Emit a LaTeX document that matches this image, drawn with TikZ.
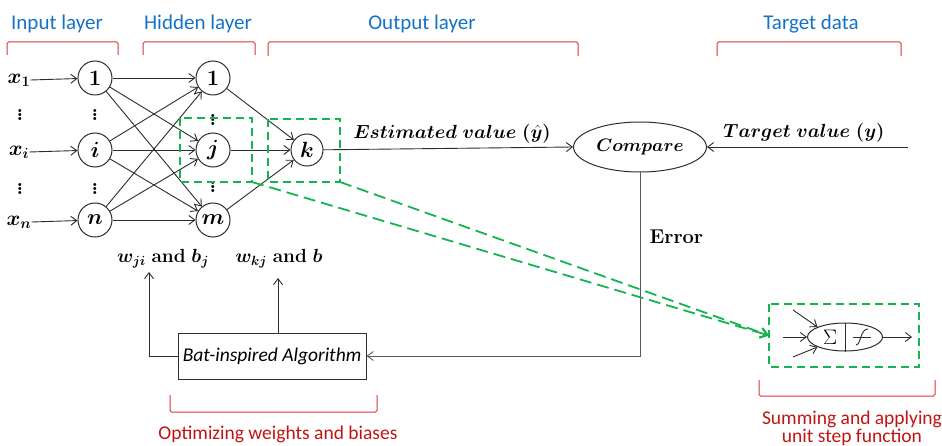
\RequirePackage{fix-cm}
\documentclass[tikz,border=0pt]{standalone}
\usepackage{fontspec}
\usepackage{bm}
\newfontfamily\calibri{Carlito}
\usetikzlibrary{arrows.meta,shapes.geometric}

\definecolor{layerblue}{RGB}{20,115,200}
\definecolor{bracketred}{RGB}{225,50,50}
\definecolor{notered}{RGB}{195,20,20}
\definecolor{dashgreen}{RGB}{20,180,80}
\definecolor{inkgray}{RGB}{45,45,45}

\tikzset{
  neuron/.style={circle, draw=inkgray, line width=1pt, minimum size=34pt,
    inner sep=0pt, font=\fontsize{22}{22}\selectfont},
  link/.style={draw=inkgray, line width=0.9pt,
    -{Straight Barb[length=6pt,width=9pt]}},
  plainline/.style={draw=inkgray, line width=0.9pt},
  layerlabel/.style={text=layerblue, font=\calibri\fontsize{21}{23}\selectfont},
  notelabel/.style={text=notered, font=\calibri\fontsize{19.5}{21}\selectfont,
    align=center},
  bracket/.style={draw=bracketred, line width=1pt, rounded corners=1.5pt},
  hlbox/.style={draw=dashgreen, line width=1.8pt, dash pattern=on 8pt off 5pt},
  glink/.style={draw=dashgreen, line width=1.8pt, dash pattern=on 12pt off 6pt,
    -{Straight Barb[length=7pt,width=10pt]}},
  mathlabel/.style={font=\fontsize{19}{21}\selectfont, inner sep=1pt},
  dots/.style={font=\fontsize{21}{21}\selectfont, inner sep=0pt}
}

\begin{document}
\begin{tikzpicture}[x=1pt, y=-1pt]
\useasboundingbox (0,0) rectangle (942,446);

% layer titles and brackets
\node[layerlabel] (tin)  at (57,24)  {Input layer};
\node[layerlabel] (thid) at (198,24) {Hidden layer};
\node[layerlabel] (tout) at (422,24) {Output layer};
\node[layerlabel] (ttar) at (811,24) {Target data};
\draw[bracket] (7,55) -- (7,42) -- (118,42) -- (118,55);
\draw[bracket] (143,55) -- (143,42) -- (255,42) -- (255,55);
\draw[bracket] (268,56) -- (268,42) -- (578,42) -- (578,56);
\draw[bracket] (717,56) -- (717,42) -- (901,42) -- (901,56);

% input layer
\node[neuron] (i1) at (95,78)  {$\bm{1}$};
\node[neuron] (ii) at (95,150) {$\bm{i}$};
\node[neuron] (in) at (95,220) {$\bm{n}$};
\node[font=\fontsize{21}{22}\selectfont, inner sep=0pt] (x1) at (19,80)  {$\bm{x_1}$};
\node[font=\fontsize{21}{22}\selectfont, inner sep=0pt] (xi) at (19,152) {$\bm{x_i}$};
\node[font=\fontsize{21}{22}\selectfont, inner sep=0pt] (xn) at (19,222) {$\bm{x_n}$};
\draw[link] (x1.east) -- (i1);
\draw[link] (xi.east) -- (ii);
\draw[link] (xn.east) -- (in);
\node[dots] (dx1) at (20,112) {$\bm\vdots$};
\node[dots] (dx2) at (20,186) {$\bm\vdots$};
\node[dots] (di1) at (95,112) {$\bm\vdots$};
\node[dots] (di2) at (95,186) {$\bm\vdots$};

% hidden layer
\node[neuron] (h1) at (213,78)  {$\bm{1}$};
\node[neuron] (hj) at (213,150) {$\bm{j}$};
\node[neuron] (hm) at (213,220) {$\bm{m}$};
\node[dots] (dh1) at (213,117) {$\bm\vdots$};
\node[dots] (dh2) at (213,184) {$\bm\vdots$};
\foreach \s in {i1,ii,in}
  \foreach \t in {h1,hj,hm}
    \draw[link] (\s) -- (\t);

% output neuron
\node[neuron, minimum size=32pt] (k) at (307,150) {$\bm{k}$};
\foreach \s in {h1,hj,hm}
  \draw[link] (\s) -- (k);

% comparison with the target
\node[ellipse, draw=inkgray, line width=1pt, minimum width=124pt,
  minimum height=50pt, font=\fontsize{18}{20}\selectfont] (cmp) at (640,147)
  {$\bm{Compare}$};
\draw[link] (k) -- (cmp.west);
\node[mathlabel] (est) at (452,134) {$\bm{Estimated\ value\ (\hat{y})}$};
\coordinate (tsrc) at (908,147);
\draw[link] (tsrc) -- (cmp.east);
\node[mathlabel] (tval) at (804,133) {$\bm{Target\ value\ (y)}$};

% optimiser loop
\node[draw=inkgray, line width=1pt, minimum width=188pt, minimum height=46pt,
  font=\calibri\itshape\fontsize{19.5}{21}\selectfont] (bat) at (272,356)
  {Bat-inspired Algorithm};
\coordinate (ecorner) at (640,356);
\draw[link, draw=gray!70!black] (cmp.south) -- (ecorner) -- (bat.east);
\node[anchor=west, font=\bfseries\fontsize{20}{22}\selectfont] (err) at (646,237) {Error};
\coordinate (wjitip) at (149,272);
\coordinate (wkjtip) at (278,278);
\draw[link] (bat.west) -| (wjitip);
\draw[link] (bat.north -| wkjtip) -- (wkjtip);
\node[mathlabel] (wji) at (163,259) {$\bm{w_{ji}}$ \textbf{and} $\bm{b_j}$};
\node[mathlabel] (wkj) at (279,259) {$\bm{w_{kj}}$ \textbf{and} $\bm{b}$};

% bottom brackets and notes
\draw[bracket] (170,395) -- (170,412) -- (377,412) -- (377,395);
\node[notelabel] (nopt) at (278,434) {Optimizing weights and biases};
\draw[bracket] (759,380) -- (759,396) -- (935,396) -- (935,380);
\node[notelabel] (nsum) at (852,428) {Summing and applying\\[-3pt]unit step function};

% highlighted neurons and enlarged unit
\coordinate (hljtl) at (180,118);
\coordinate (hljbr) at (252,182);
\coordinate (hlktl) at (268,119);
\coordinate (hlkbr) at (340,182);
\coordinate (hlutl) at (769,304);
\coordinate (hlubr) at (919,367);
\coordinate (hluin) at (769,335.5);
\draw[hlbox] (hljtl) rectangle (hljbr);
\draw[hlbox] (hlktl) rectangle (hlkbr);
\draw[hlbox] (hlutl) rectangle (hlubr);
\draw[glink] (hljbr) -- (hluin);
\draw[glink] (hlkbr) -- (hluin);

\node[ellipse, draw=inkgray, line width=1pt, minimum width=75pt,
  minimum height=28pt, inner sep=0pt] (unit) at (845,337) {};
\draw[plainline] (unit.north) -- (unit.south);
\node[font=\fontsize{21}{21}\selectfont, inner sep=0pt] (sig) at (830,337) {$\Sigma$};
\coordinate (stepc) at (862,337);
\draw[plainline] ([xshift=-9pt]stepc) -- ([xshift=9pt]stepc);
\draw[plainline] ([xshift=-6pt,yshift=-8pt]stepc)
  .. controls ([xshift=-1pt,yshift=-8pt]stepc) and ([xshift=-2pt,yshift=8pt]stepc)
  .. ([xshift=6pt,yshift=8pt]stepc);
\coordinate (u1) at (793,310);
\coordinate (u2) at (783,337);
\coordinate (u3) at (793,357);
\coordinate (uout) at (912,337);
\draw[link] (u1) -- (unit.160);
\draw[link] (u2) -- (unit.west);
\draw[link] (u3) -- (unit.200);
\draw[link] (unit.east) -- (uout);
\end{tikzpicture}
\end{document}
